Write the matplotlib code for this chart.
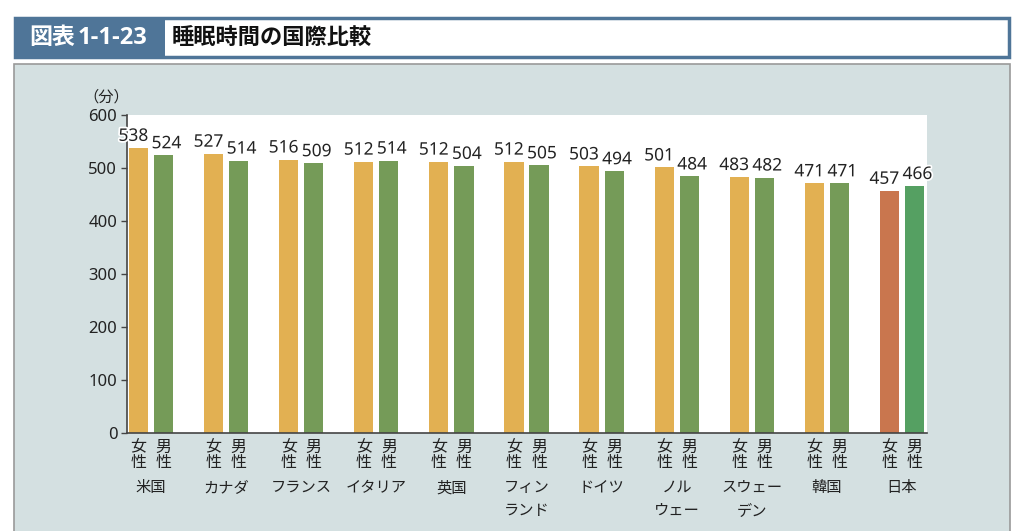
import matplotlib
matplotlib.use("Agg")
import matplotlib.pyplot as plt
import matplotlib.patheffects as pe
from matplotlib.patches import Rectangle
import numpy as np

plt.rcParams['font.family'] = ['Noto Sans CJK JP', 'DejaVu Sans']
NUMFONT = ['Noto Sans', 'DejaVu Sans']

countries = ["米国", "カナダ", "フランス", "イタリア", "英国", "フィン\nランド",
             "ドイツ", "ノル\nウェー", "スウェー\nデン", "韓国", "日本"]
female = [538, 527, 516, 512, 512, 512, 503, 501, 483, 471, 457]
male = [524, 514, 509, 514, 504, 505, 494, 484, 482, 471, 466]
yticks = [0, 100, 200, 300, 400, 500, 600]
sex_labels = ["女\n性", "男\n性"]

W, H = 1024, 531
fig = plt.figure(figsize=(W / 100, H / 100), dpi=100)
fig.patch.set_facecolor("white")

def px(x0, y0, x1, y1):
    return (x0 / W, 1 - y1 / H, (x1 - x0) / W, (y1 - y0) / H)

# grey panel
l, b, w, h = px(14, 64, 1010, 540)
fig.patches.append(Rectangle((l, b), w, h, transform=fig.transFigure,
                             facecolor="#D4E0E1", edgecolor="#9A9A9A", lw=1.2, zorder=-10))
# header
l, b, w, h = px(15, 18, 1009, 57)
fig.patches.append(Rectangle((l, b), w, h, transform=fig.transFigure,
                             facecolor="white", edgecolor="#4F7598", lw=2.5, zorder=-9))
l, b, w, h = px(14, 17, 165, 58)
fig.patches.append(Rectangle((l, b), w, h, transform=fig.transFigure,
                             facecolor="#4F7598", edgecolor="none", zorder=-8))
fig.text(29 / W, 1 - 38 / H, "図表", color="white", fontsize=16.5,
         fontweight="bold", va="center", ha="left")
fig.text(78 / W, 1 - 38 / H, "1-1-23", color="white", fontsize=17,
         fontweight="bold", va="center", ha="left", family=['Open Sans', 'DejaVu Sans'])
fig.text(172 / W, 1 - 38 / H, "睡眠時間の国際比較", color="#111111", fontsize=16,
         fontweight="bold", va="center", ha="left")

ax = fig.add_axes([127 / W, 1 - 433 / H, (927 - 127) / W, (433 - 115) / H])
ax.set_facecolor("white")

x = np.arange(len(countries))
off = 0.167
bw = 0.255
fcols = ["#E2B052"] * (len(countries) - 1) + ["#C9764E"]
mcols = ["#759B58"] * (len(countries) - 1) + ["#55A062"]
ax.bar(x - off, female, bw, color=fcols, zorder=2)
ax.bar(x + off, male, bw, color=mcols, zorder=2)

stroke = [pe.withStroke(linewidth=2.5, foreground="white")]
for xi, v in zip(x - off, female):
    ax.annotate(str(v), (xi, v), xytext=(-5, 3), textcoords="offset pixels",
                ha="center", va="bottom", fontsize=12.5, color="#222222",
                path_effects=stroke, zorder=3, family=NUMFONT)
for xi, v in zip(x + off, male):
    ax.annotate(str(v), (xi, v), xytext=(3, 3), textcoords="offset pixels",
                ha="center", va="bottom", fontsize=12.5, color="#222222",
                path_effects=stroke, zorder=3, family=NUMFONT)

ax.set_xlim(-0.32, len(countries) - 1 + 0.333)
ax.set_ylim(0, 600)
ax.set_yticks(yticks)
ax.set_yticklabels([str(t) for t in yticks], fontsize=12, color="#222222", family=NUMFONT)
ax.tick_params(axis="y", length=4, width=1, color="#444444", pad=3)
ax.set_xticks([])
for s in ["top", "right"]:
    ax.spines[s].set_visible(False)
for s in ["left", "bottom"]:
    ax.spines[s].set_color("#444444")
    ax.spines[s].set_linewidth(1.2)

ax.text(-0.6, 618, "（分）", fontsize=11, ha="center", va="bottom", color="#222222")

trans = ax.get_xaxis_transform()
for i, name in enumerate(countries):
    for j, sl in enumerate(sex_labels):
        ax.text(i + (2 * j - 1) * off, -0.018, sl, transform=trans, ha="center", va="top",
                fontsize=11.5, color="#222222", linespacing=0.9)
    ax.text(i, -0.145, name, transform=trans, ha="center", va="top",
            fontsize=11, color="#222222", linespacing=1.45)

fig.savefig("out.png", dpi=100)
